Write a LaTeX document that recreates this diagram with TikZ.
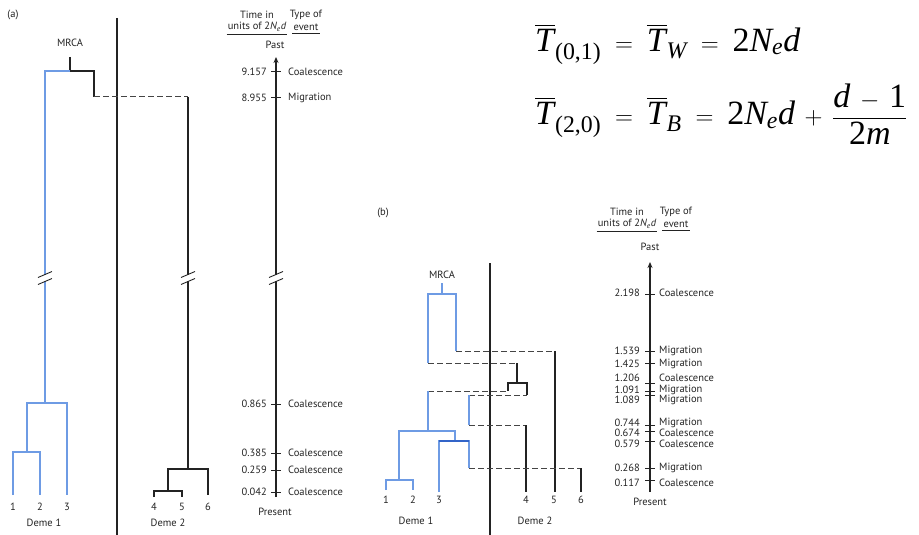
\documentclass[tikz,border=0pt]{standalone}
\usepackage{amsmath}
\usepackage{fontspec}
\setmainfont{PT Sans}
\newfontfamily\tms{Liberation Serif}
\usetikzlibrary{arrows.meta,positioning}
\definecolor{lineblue}{RGB}{110,155,228}
\definecolor{deepblue}{RGB}{50,100,200}
\definecolor{ink}{RGB}{35,35,35}
% break mark across a vertical line at (x,y)
\newcommand\cutmark[2]{%
  \fill[white] (#1-2,#2-3) rectangle (#1+2,#2+3);
  \draw[ink, line width=0.9pt] (#1-7,#2-0.5) -- (#1+7,#2-6.5) (#1-7,#2+6.5) -- (#1+7,#2+0.5);}
\newcommand\Nunit{2{\itshape N\textsubscript{e}d}}
% Times-like letters for the formulas
\newcommand\ti[1]{\text{\tms\itshape #1}}
\newcommand\tu[1]{\text{\tms #1}}
\newcommand\Tbar{\overline{\ti{T}\kern1pt}}
\newcommand\wide{\thickmuskip=10mu\relax\medmuskip=7mu\relax}

\begin{document}
\begin{tikzpicture}[x=1pt, y=-1pt, >={Stealth[length=6pt,width=5pt]},
  font=\fontsize{10.5}{12}\selectfont,
  blu/.style={draw=lineblue, line width=1.3pt},
  blk/.style={draw=ink, line width=1.2pt},
  mig/.style={draw=ink!85, line width=1pt, dash pattern=on 5.5pt off 3.5pt},
  tck/.style={draw=ink, line width=1pt},
  eqn/.style={anchor=west, text=black, font=\fontsize{34}{40}\selectfont},
  every node/.style={inner sep=1pt, text=ink}]
\useasboundingbox (0,0) rectangle (919,535);

%% panel (a)
\node (tagA) at (13,15) {(a)};
\node (mrcaA) at (70,43) {MRCA};
\draw[blk] (117,18) -- (117,535);
\draw[blk] (70,57) -- (70,71) -| (94,97);
\draw[blu] (70,71) -| (45,403);
\draw[mig] (94,97) -- (188,97);
\draw[blk] (188,97) -- (188,469);
\draw[blu] (27,452) |- (67,403) -- (67,495);
\draw[blu] (13,495) |- (40,452) -- (40,495);
\draw[blk] (168,491) |- (208,469) -- (208,495);
\draw[blk] (154,497) |- (182,491) -- (182,497);
\foreach \x/\n in {13/1, 40/2, 67/3, 154/4, 182/5, 208/6}
  \node (a\n) at (\x,507) {\n};
\node (demeA1) at (44,523) {Deme 1};
\node (demeA2) at (168,523) {Deme 2};

% time axis (a)
\node (timeA) at (257,15) {Time in};
\node (unitA) at (257,27) {units of \Nunit};
\node (typeA) at (306,15) {Type of};
\node (evA) at (306,27) {event};
\draw[tck] ([yshift=-2pt]unitA.south west) -- ([yshift=-2pt]unitA.south east);
\draw[tck] ([yshift=-2pt]evA.south west) -- ([yshift=-2pt]evA.south east);
\node (pastA) at (275,45) {Past};
\node (presA) at (275,512) {Present};
\draw[blk, line width=1.1pt, ->] (276,497) -- (276,57);
\foreach \y/\v/\e [count=\i] in {72/9.157/Coalescence, 98/8.955/Migration,
    404/0.865/Coalescence, 453/0.385/Coalescence, 470/0.259/Coalescence,
    492/0.042/Coalescence} {
  \draw[tck] (271,\y) -- (281,\y);
  \node[anchor=east] (ta\i) at (268,\y) {\v};
  \node[anchor=west] (ea\i) at (287,\y) {\e};
}
\cutmark{45}{278}
\cutmark{188}{278}
\cutmark{276}{278}

%% panel (b)
\node (tagB) at (383,213) {(b)};
\node (mrcaB) at (442,275) {MRCA};
\draw[blk] (490,263) -- (490,535);
\draw[blu] (442,283) -- (442,294);
\draw[blu] (428,363) |- (456,294) -- (456,351);
\draw[mig] (456,351) -- (555,351);
\draw[blk] (555,351) -- (555,492);
\draw[mig] (428,363) -- (517,363);
\draw[blk] (517,363) -- (517,383);
\draw[blk] (508,391) |- (527,383) -- (527,395);
\draw[mig] (428,391) -- (508,391);
\draw[blu] (428,391) -- (428,431);
\draw[mig] (469,395) -- (527,395);
\draw[blu] (469,395) -- (469,425);
\draw[mig] (469,425) -- (526,425);
\draw[blk] (526,425) -- (526,492);
\draw[blu] (399,480) |- (455,431) -- (455,441);
\draw[blu] (439,492) |- (469,441) -- (469,468);
\draw[draw=deepblue, line width=1.4pt] (439,441) -- (469,441);
\draw[mig] (469,468) -- (581,468);
\draw[blk] (581,468) -- (581,492);
\draw[blu] (386,490) |- (413,480) -- (413,490);
\foreach \x/\n in {386/1, 413/2, 439/3, 526/4, 554/5, 581/6}
  \node (b\n) at (\x,500) {\n};
\node (demeB1) at (416,521) {Deme 1};
\node (demeB2) at (535,521) {Deme 2};

% time axis (b)
\node (timeB) at (627,212) {Time in};
\node (unitB) at (627,224) {units of \Nunit};
\node (typeB) at (676,212) {Type of};
\node (evB) at (676,224) {event};
\draw[tck] ([yshift=-2pt]unitB.south west) -- ([yshift=-2pt]unitB.south east);
\draw[tck] ([yshift=-2pt]evB.south west) -- ([yshift=-2pt]evB.south east);
\node (pastB) at (650,247) {Past};
\node (presB) at (650,502) {Present};
\draw[blk, line width=1.1pt, ->] (650,492) -- (650,262);
\foreach \y/\ly/\v/\e [count=\i] in {294/293/2.198/Coalescence,
    351/351/1.539/Migration, 363/364/1.425/Migration, 383/378/1.206/Coalescence,
    391/390/1.091/Migration, 395/400/1.089/Migration, 425/423/0.744/Migration,
    431/433/0.674/Coalescence, 441/444/0.579/Coalescence,
    468/468/0.268/Migration, 480/483/0.117/Coalescence} {
  \draw[tck] (645,\y) -- (655,\y);
  \node[anchor=east] (tb\i) at (641,\ly) {\v};
  \node[anchor=west] (eb\i) at (658,\ly) {\e};
}

%% formulas
\node[eqn] (fw) at (534,44)
  {$\wide\Tbar_{\tu{(0,1)}} = \Tbar_{\ti{W}} = \tu{2}\ti{N}_{\ti{e}}\ti{d}$};
\node[eqn] (fb) at (534,114)
  {$\wide\Tbar_{\tu{(2,0)}} = \Tbar_{\ti{B}} = \tu{2}\ti{N}_{\ti{e}}\ti{d}
    + \dfrac{\ti{d}\wide - \tu{1}}{\tu{2}\ti{m}}$};
\end{tikzpicture}
\end{document}
